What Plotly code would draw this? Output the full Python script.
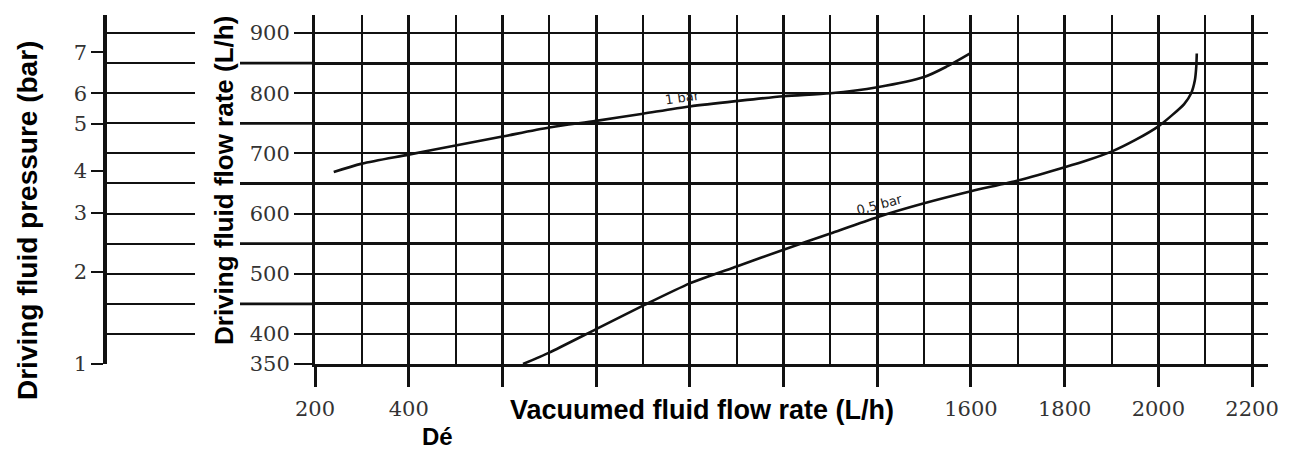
import plotly.graph_objects as go

# the page puts the figure 8 px in from the top-left corner of the window
OFF = 8
W, H = 1300 - OFF, 452 - OFF

# ---- data ----
# curve "1 bar": vacuumed flow (L/h) vs driving flow (L/h)
one_bar_x = [240, 300, 400, 500, 600, 700, 800, 900, 1000, 1100, 1200, 1300, 1400, 1500, 1550, 1600]
one_bar_y = [669, 683, 698, 713, 728, 743, 754, 766, 778, 787, 795, 800, 810, 827, 845, 867]

# curve "0,5 bar"
half_bar_x = [644, 700, 800, 900, 1000, 1100, 1200, 1300, 1400, 1500, 1600, 1700, 1800, 1850,
              1900, 1950, 2000, 2030, 2055, 2070, 2078, 2081, 2082]
half_bar_y = [350, 369, 408, 447, 484, 512, 540, 567, 594, 617, 637, 655, 677, 689,
              703, 722, 745, 764, 782, 800, 822, 845, 866]

# x axis ticks (labelled every 200, grid every 100)
x_major = [200, 400, 600, 800, 1000, 1200, 1400, 1600, 1800, 2000, 2200]
x_major_text = ["200", "400", "", "", "", "", "", "1600", "1800", "2000", "2200"]
x_minor = [300, 500, 700, 900, 1100, 1300, 1500, 1700, 1900, 2100]

# y axis ticks (driving fluid flow rate)
y_major = [350, 400, 500, 600, 700, 800, 900]
y_major_text = ["350", "400", "500", "600", "700", "800", "900"]
y_minor = [450, 550, 650, 750, 850]
y_grid_all = [350, 400, 450, 500, 550, 600, 650, 700, 750, 800, 850, 900]

# pressure scale (bar) and the driving flow rate each mark lines up with
pressure_bar = ["1", "2", "3", "4", "5", "6", "7"]
pressure_equiv_flow = [350, 503, 601, 671, 749, 800, 868]

X_RANGE = [200, 2234]
Y_RANGE = [350, 930]


def px_x(p):
    return (p - OFF) / W


def px_y(p):
    return 1 - (p - OFF) / H


main_xdom = [px_x(315), px_x(1268)]
ydom = [px_y(364), px_y(15)]
left_xdom = [px_x(107), px_x(195)]

INK = "#111111"
TICKFONT = dict(family="DejaVu Serif", size=21, color="#333333")
TITLEFONT = "Liberation Sans"

fig = go.Figure()

fig.add_trace(go.Scatter(x=one_bar_x, y=one_bar_y, mode="lines",
                         line=dict(color=INK, width=2.6, shape="spline", smoothing=0.8),
                         showlegend=False, hoverinfo="skip"))
fig.add_trace(go.Scatter(x=half_bar_x, y=half_bar_y, mode="lines",
                         line=dict(color=INK, width=2.6, shape="spline", smoothing=0.6),
                         showlegend=False, hoverinfo="skip"))

# invisible trace on the pressure panel so its axes render
fig.add_trace(go.Scatter(x=[0], y=[350], mode="markers", marker=dict(opacity=0),
                         xaxis="x2", yaxis="y2", showlegend=False, hoverinfo="skip"))

fig.update_layout(
    width=W, height=H,
    margin=dict(l=0, r=0, t=0, b=0, pad=0, autoexpand=False),
    paper_bgcolor="white", plot_bgcolor="white",
    showlegend=False,
    xaxis=dict(
        domain=main_xdom, range=X_RANGE, automargin=False,
        tickmode="array", tickvals=x_major, ticktext=x_major_text,
        ticks="outside", ticklen=20, tickwidth=2.5, tickcolor=INK,
        tickfont=TICKFONT, ticklabelstandoff=4,
        showgrid=True, gridcolor=INK, gridwidth=2.6,
        minor=dict(tickmode="array", tickvals=x_minor, showgrid=True,
                   gridcolor=INK, gridwidth=2.3, ticks=""),
        showline=True, linecolor=INK, linewidth=3,
        zeroline=False, fixedrange=True,
    ),
    yaxis=dict(
        domain=ydom, range=Y_RANGE, automargin=False,
        tickmode="array", tickvals=y_major, ticktext=y_major_text,
        ticks="outside", ticklen=18, tickwidth=2, tickcolor=INK,
        tickfont=TICKFONT,
        showgrid=True, gridcolor=INK, gridwidth=2,
        minor=dict(tickmode="array", tickvals=y_minor, showgrid=True,
                   gridcolor=INK, gridwidth=2.8, ticks=""),
        showline=True, linecolor=INK, linewidth=3,
        zeroline=False, fixedrange=True,
    ),
    xaxis2=dict(
        domain=left_xdom, range=[0, 1], anchor="y2", automargin=False,
        showticklabels=False, ticks="", showgrid=False, zeroline=False,
        showline=False, fixedrange=True,
    ),
    yaxis2=dict(
        domain=ydom, range=Y_RANGE, anchor="x2", automargin=False,
        tickmode="array", tickvals=pressure_equiv_flow, ticktext=pressure_bar,
        ticks="outside", ticklen=12, tickwidth=2, tickcolor=INK,
        tickfont=dict(family="DejaVu Serif", size=21, color="#333333"),
        showgrid=False,
        minor=dict(tickmode="array", tickvals=y_grid_all, showgrid=True,
                   gridcolor=INK, gridwidth=2, ticks=""),
        showline=True, linecolor=INK, linewidth=3.5,
        zeroline=False, fixedrange=True,
    ),
)

# half-value grid lines run a bit further left, past the tick labels
for v in y_minor:
    fig.add_shape(type="line", xref="paper", yref="y",
                  x0=px_x(240), x1=main_xdom[0], y0=v, y1=v,
                  line=dict(color=INK, width=2.8), layer="below")

titles = [
    ("Driving fluid pressure (bar)", 27, 221, -90, 28),
    ("Driving fluid flow rate (L/h)", 224, 180, -90, 26),
    ("Vacuumed fluid flow rate (L/h)", 702, 410, 0, 27),
    ("Dé", 437, 436, 0, 24),
]
for text, tx, ty, ang, size in titles:
    fig.add_annotation(text="<b>" + text + "</b>", x=px_x(tx), y=px_y(ty),
                       xref="paper", yref="paper", showarrow=False,
                       xanchor="center", yanchor="middle", textangle=ang,
                       font=dict(family=TITLEFONT, size=size, color="black"))

fig.add_annotation(text="1 bar", x=985, y=793, xref="x", yref="y", showarrow=False,
                   textangle=-8, font=dict(family="DejaVu Sans", size=13, color="#222"))
fig.add_annotation(text="0,5 bar", x=1405, y=615, xref="x", yref="y", showarrow=False,
                   textangle=-15, font=dict(family="DejaVu Sans", size=13, color="#222"))

fig.write_html("out.html")
